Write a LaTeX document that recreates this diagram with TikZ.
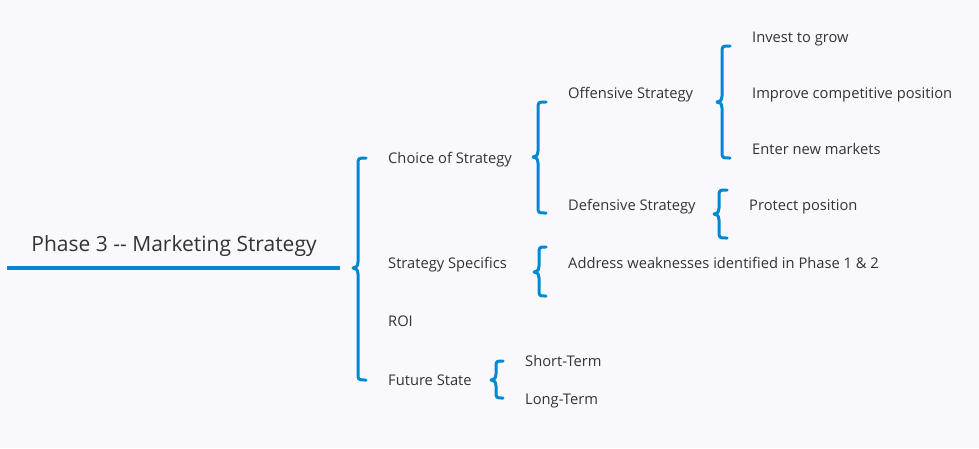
\documentclass[tikz,border=0pt]{standalone}
\usepackage{fontspec}
\setmainfont{Open Sans}
\definecolor{bg}{HTML}{F9F9FD}
\definecolor{mblue}{HTML}{0288D1}
\definecolor{txt}{HTML}{333333}
\newcommand{\mybrace}[5]{% tipx, rightx, top, mid, bottom
  \draw[bracestyle] (#2,#3) .. controls ({#1+5},#3) and ({#1+5},#3) .. ({#1+5},{#3+7})
    -- ({#1+5},{#4-6}) .. controls ({#1+5},{#4-1}) and ({#1+2},#4) .. (#1,#4)
    .. controls ({#1+2},#4) and ({#1+5},{#4+1}) .. ({#1+5},{#4+6})
    -- ({#1+5},{#5-7}) .. controls ({#1+5},#5) and ({#1+5},#5) .. (#2,#5);}
\begin{document}
\begin{tikzpicture}[x=1pt,y=-1pt,
  bracestyle/.style={draw=mblue,line width=3pt,line cap=round,line join=round},
  lbl/.style={anchor=base west,inner sep=0pt,text=txt,font=\fontsize{14.7}{18}\selectfont},
  ttl/.style={anchor=base,inner sep=0pt,text=txt,font=\fontsize{21}{25}\selectfont}]
\useasboundingbox[fill=bg] (0,0) rectangle (979,448);
% title
\node[ttl] (root) at (174,251) {Phase 3 -{}- Marketing Strategy};
\coordinate (ul1) at (7,268);
\coordinate (ul2) at (340,268);
\draw[mblue,line width=3.6pt] (ul1) -- (ul2);
% level 1
\mybrace{353}{366}{158}{268}{380}
\node[lbl] (choice) at (388,163) {Choice of Strategy};
\node[lbl] (spec) at (388,268) {Strategy Specifics};
\node[lbl] (roi) at (388,326) {ROI};
\node[lbl] (future) at (388,385) {Future State};
% choice
\mybrace{533}{546}{102}{157}{213}
\node[lbl] (off) at (568,98) {Offensive Strategy};
\node[lbl] (def) at (568,210) {Defensive Strategy};
% offensive
\mybrace{717}{730}{46}{102}{158}
\node[lbl] (inv) at (752,42) {Invest to grow};
\node[lbl] (imp) at (752,98) {Improve competitive position};
\node[lbl] (ent) at (752,154) {Enter new markets};
% defensive
\mybrace{714}{727}{190}{214}{238}
\node[lbl] (prot) at (749,210) {Protect position};
% specifics
\mybrace{534}{546}{247}{272}{296}
\node[lbl] (addr) at (568,268) {Address weaknesses identified in Phase 1 \& 2};
% future
\mybrace{491}{503}{361}{380}{398}
\node[lbl] (short) at (525,366) {Short-Term};
\node[lbl] (long) at (525,404) {Long-Term};
\end{tikzpicture}
\end{document}
